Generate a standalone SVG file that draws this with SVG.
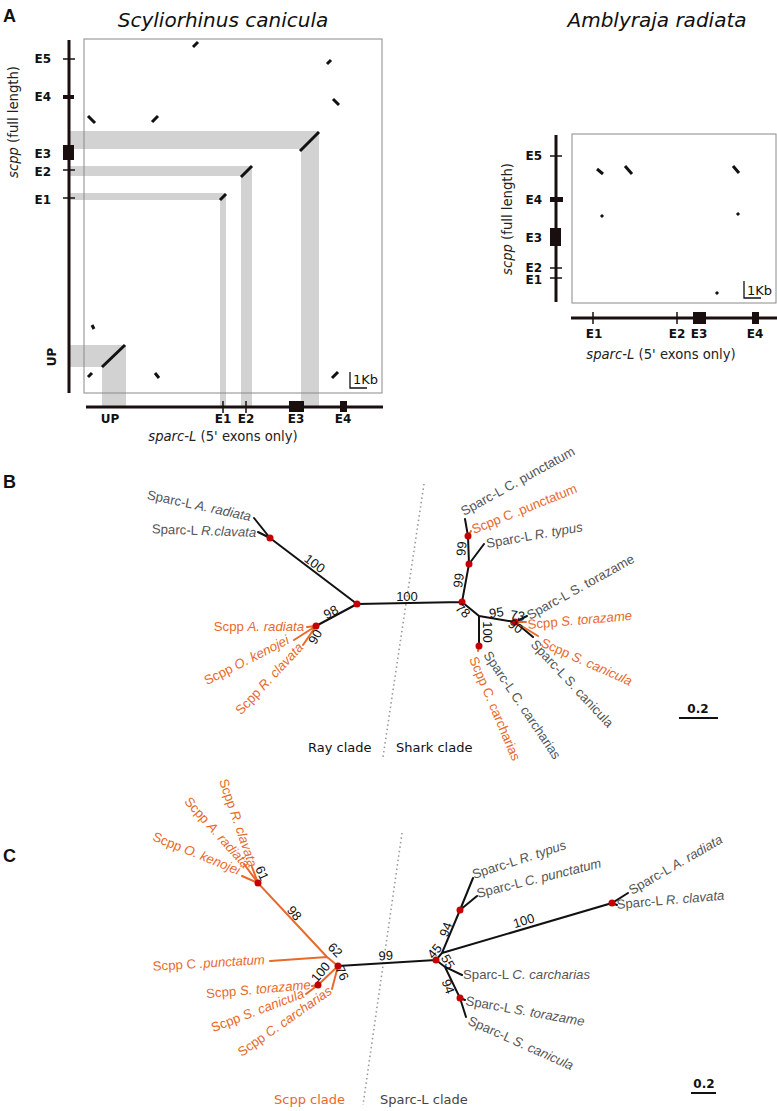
<svg xmlns="http://www.w3.org/2000/svg" width="777" height="1111" viewBox="0 0 777 1111">
<style>
.ax{stroke:#1a0f0f;stroke-width:3;fill:none}
.tk{stroke:#1a0f0f;stroke-width:1.5}
.blk{fill:#1a0f0f}
.band{fill:#d2d2d2}
.box{fill:none;stroke:#8a8a8a;stroke-width:1}
.dt{stroke:#111;stroke-width:3;fill:none}
.ex{font-family:'DejaVu Sans',sans-serif;font-weight:bold;font-size:12px;fill:#111}
.ttl{font-family:'DejaVu Sans',sans-serif;font-style:italic;font-size:20px;fill:#111}
.axl{font-family:'DejaVu Sans',sans-serif;font-size:13.2px;fill:#222}
.pl{font-family:'Liberation Sans',sans-serif;font-weight:bold;font-size:18px;fill:#111}
.br{stroke:#111;stroke-width:2;fill:none;stroke-linecap:round}
.bo{stroke:#e8692a;stroke-width:2;fill:none;stroke-linecap:round}
.nd{fill:#c40000}
.lg{font-family:'Liberation Sans',sans-serif;font-size:13.2px;fill:#555}
.lo{font-family:'Liberation Sans',sans-serif;font-size:13.2px;fill:#e8692a}
.bs{font-family:'Liberation Sans',sans-serif;font-size:13px;fill:#111}
.it{font-style:italic}
.dot{stroke:#9a9a9a;stroke-width:1.6;stroke-dasharray:1.5 3;fill:none}
.cl{font-family:'DejaVu Sans',sans-serif;font-size:13px}
.sc{font-family:'DejaVu Sans',sans-serif;font-weight:bold;font-size:12px;fill:#111}
.kb{font-family:'DejaVu Sans',sans-serif;font-size:13px;fill:#111}
</style>

<!-- Panel A -->
<g id="panelA">
<text class="pl" x="3" y="22">A</text>
<g id="plot-scyliorhinus">
<text class="ttl" x="223" y="27" text-anchor="middle">Scyliorhinus canicula</text>
<rect class="band" x="69" y="131" width="250" height="18"/>
<rect class="band" x="301" y="131" width="18" height="275"/>
<rect class="band" x="69" y="166" width="183" height="10"/>
<rect class="band" x="241" y="166" width="11" height="240"/>
<rect class="band" x="69" y="193" width="157" height="7"/>
<rect class="band" x="220" y="193" width="6" height="213"/>
<rect class="band" x="69" y="345" width="57" height="22"/>
<rect class="band" x="102" y="345" width="24" height="61"/>
<rect class="box" x="84" y="39" width="298" height="354"/>
<line class="ax" x1="69" y1="40" x2="69" y2="393"/>
<line class="tk" x1="63" y1="59" x2="75" y2="59"/>
<rect class="blk" x="63" y="95" width="11" height="4"/>
<rect class="blk" x="63" y="145" width="11" height="15"/>
<line class="tk" x1="63" y1="170" x2="75" y2="170"/>
<line class="tk" x1="63" y1="198" x2="75" y2="198"/>
<text class="ex" x="51" y="63" text-anchor="end">E5</text>
<text class="ex" x="51" y="101" text-anchor="end">E4</text>
<text class="ex" x="51" y="158" text-anchor="end">E3</text>
<text class="ex" x="51" y="176" text-anchor="end">E2</text>
<text class="ex" x="51" y="204" text-anchor="end">E1</text>
<text class="ex" transform="translate(56,357) rotate(-90)" text-anchor="middle">UP</text>
<text class="axl" transform="translate(18,122) rotate(-90)" text-anchor="middle"><tspan class="it">scpp</tspan> (full length)</text>
<path class="dt" d="M193 47L198 42M327 64L331 60M333 99L339 105M88 116L95 123M152 122L158 116M300 151L319 132M241 177L252 166M220 200L226 194M92 325L94 329M102 367L125 345M88 377L92 373M155 373L159 378M332 378L338 372"/>
<path d="M350 372V388H367" fill="none" stroke="#111" stroke-width="1.3"/>
<text class="kb" x="353" y="384">1Kb</text>
<line class="ax" x1="86" y1="407" x2="383" y2="407"/>
<line class="tk" x1="223" y1="401" x2="223" y2="413"/>
<line class="tk" x1="246" y1="401" x2="246" y2="413"/>
<rect class="blk" x="289" y="401" width="15" height="11"/>
<rect class="blk" x="340" y="401" width="7" height="11"/>
<text class="ex" x="110" y="423" text-anchor="middle">UP</text>
<text class="ex" x="223" y="423" text-anchor="middle">E1</text>
<text class="ex" x="246" y="423" text-anchor="middle">E2</text>
<text class="ex" x="296" y="423" text-anchor="middle">E3</text>
<text class="ex" x="343" y="423" text-anchor="middle">E4</text>
<text class="axl" x="223" y="441" text-anchor="middle"><tspan class="it">sparc-L</tspan> (5' exons only)</text>
</g>
<g id="plot-amblyraja">
<text class="ttl" x="657" y="27" text-anchor="middle">Amblyraja radiata</text>
<rect class="box" x="572" y="134" width="204" height="169"/>
<line class="ax" x1="556" y1="135" x2="556" y2="302"/>
<line class="tk" x1="550" y1="156" x2="562" y2="156"/>
<rect class="blk" x="550" y="197" width="13" height="5"/>
<rect class="blk" x="550" y="228" width="11" height="18"/>
<line class="tk" x1="550" y1="268" x2="562" y2="268"/>
<line class="tk" x1="550" y1="278" x2="562" y2="278"/>
<text class="ex" x="542" y="160" text-anchor="end">E5</text>
<text class="ex" x="542" y="204" text-anchor="end">E4</text>
<text class="ex" x="542" y="242" text-anchor="end">E3</text>
<text class="ex" x="542" y="272" text-anchor="end">E2</text>
<text class="ex" x="542" y="284" text-anchor="end">E1</text>
<text class="axl" transform="translate(512,219) rotate(-90)" text-anchor="middle"><tspan class="it">scpp</tspan> (full length)</text>
<path class="dt" d="M597 169L603 174M625 166L632 174M733 166L739 173"/>
<path class="dt" stroke-width="2.5" d="M601 215L603 217M737 213L739 215M716 292L718 294"/>
<path d="M744 281V298H761" fill="none" stroke="#111" stroke-width="1.3"/>
<text class="kb" x="747" y="295">1Kb</text>
<line class="ax" x1="571" y1="318" x2="777" y2="318"/>
<line class="tk" x1="593" y1="312" x2="593" y2="324"/>
<line class="tk" x1="677" y1="312" x2="677" y2="324"/>
<rect class="blk" x="693" y="312" width="13" height="12"/>
<rect class="blk" x="752" y="312" width="7" height="12"/>
<text class="ex" x="594" y="338" text-anchor="middle">E1</text>
<text class="ex" x="677" y="338" text-anchor="middle">E2</text>
<text class="ex" x="699" y="338" text-anchor="middle">E3</text>
<text class="ex" x="755" y="338" text-anchor="middle">E4</text>
<text class="axl" x="661" y="359" text-anchor="middle"><tspan class="it">sparc-L</tspan> (5' exons only)</text>
</g>
</g>

<!-- Panel B -->
<g id="panelB">
<text class="pl" x="3" y="488">B</text>
<path class="dot" d="M424 484L383 757"/>
<text class="cl" x="308" y="752" fill="#111">Ray clade</text>
<text class="cl" x="396" y="752" fill="#111">Shark clade</text>
<g id="connectorsB">
<path class="br" d="M357 604L462 602M357 604L270 538M270 538L254 518M270 538L258 532M357 604L316 626M462 602L469 564L468 536L465 519M469 564L484 544M462 602L479 616L479 646M479 616L515 622L527 616M515 622L533 637"/>
<path class="bo" d="M316 626L307 627M316 626L294 640M316 626L303 645M468 536L471 531M515 622L526 622M515 622L538 636M479 646L478 651"/>
</g>
<g id="nodesB">
<circle class="nd" cx="270" cy="538" r="3.5"/>
<circle class="nd" cx="357" cy="604" r="3.5"/>
<circle class="nd" cx="316" cy="626" r="3.5"/>
<circle class="nd" cx="462" cy="602" r="3.5"/>
<circle class="nd" cx="469" cy="564" r="3.5"/>
<circle class="nd" cx="468" cy="536" r="3.5"/>
<circle class="nd" cx="515" cy="622" r="3.5"/>
<circle class="nd" cx="479" cy="646" r="3.5"/>
</g>
<g id="supportB">
<text class="bs" transform="translate(312,567) rotate(37)" text-anchor="middle">100</text>
<text class="bs" x="407" y="601" text-anchor="middle">100</text>
<text class="bs" transform="translate(333,616) rotate(-28)" text-anchor="middle">98</text>
<text class="bs" transform="translate(319,639) rotate(-60)" text-anchor="middle">90</text>
<text class="bs" transform="translate(463,581) rotate(-82)" text-anchor="middle">99</text>
<text class="bs" transform="translate(466,549) rotate(-85)" text-anchor="middle">99</text>
<text class="bs" transform="translate(460,614) rotate(42)" text-anchor="middle">78</text>
<text class="bs" transform="translate(497,617) rotate(-8)" text-anchor="middle">95</text>
<text class="bs" transform="translate(483,632) rotate(90)" text-anchor="middle">100</text>
<text class="bs" transform="translate(517,620) rotate(8)" text-anchor="middle">73</text>
<text class="bs" transform="translate(513,630) rotate(35)" text-anchor="middle">90</text>
</g>
<g id="leavesB">
<text class="lg" transform="translate(250,521) rotate(12)" text-anchor="end">Sparc-L <tspan class="it">A. radiata</tspan></text>
<text class="lg" transform="translate(256,537) rotate(2)" text-anchor="end">Sparc-L <tspan class="it">R.clavata</tspan></text>
<text class="lo" transform="translate(304,631)" text-anchor="end">Scpp <tspan class="it">A. radiata</tspan></text>
<text class="lo" transform="translate(290,643) rotate(-27)" text-anchor="end">Scpp <tspan class="it">O. kenojei</tspan></text>
<text class="lo" transform="translate(304,648) rotate(-47)" text-anchor="end">Scpp <tspan class="it">R. clavata</tspan></text>
<text class="lg" transform="translate(464,516) rotate(-29)">Sparc-L C. punctatum</text>
<text class="lo" transform="translate(474,534) rotate(-22)">Scpp C .punctatum</text>
<text class="lg" transform="translate(487,548) rotate(-10)">Sparc-L <tspan class="it">R. typus</tspan></text>
<text class="lg" transform="translate(530,620) rotate(-29)">Sparc-L S. torazame</text>
<text class="lo" transform="translate(528,629) rotate(-5)">Scpp <tspan class="it">S. torazame</tspan></text>
<text class="lo" transform="translate(540,646) rotate(24)">Scpp <tspan class="it">S. canicula</tspan></text>
<text class="lg" transform="translate(530,645) rotate(47)">Sparc-L S. canicula</text>
<text class="lo" transform="translate(469,659) rotate(67)">Scpp C. carcharias</text>
<text class="lg" transform="translate(483,655) rotate(56)">Sparc-L C. carcharias</text>
</g>
<line x1="679" y1="718" x2="718" y2="718" stroke="#111" stroke-width="2"/>
<text class="sc" x="698" y="713" text-anchor="middle">0.2</text>
</g>

<!-- Panel C -->
<g id="panelC">
<text class="pl" x="3" y="862">C</text>
<path class="dot" d="M402 833L363 1105"/>
<text class="cl" x="274" y="1104" fill="#e8692a">Scpp clade</text>
<text class="cl" x="380" y="1104" fill="#444">Sparc-L clade</text>
<g id="connectorsC">
<path class="br" d="M338 966L436 960M436 960L442 953L460 910L473 878M460 910L477 896M442 953L612 903L628 893M612 903L617 905M436 960L445 967L462 975M445 967L460 998L466 1017M460 998L465 1000"/>
<path class="bo" d="M338 966L327 957L270 961M327 957L258 883L242 876M258 883L244 864M258 883L252 867M338 966L318 985L312 986M318 985L306 994M338 966L332 989"/>
</g>
<g id="nodesC">
<circle class="nd" cx="338" cy="966" r="3.5"/>
<circle class="nd" cx="436" cy="960" r="3.5"/>
<circle class="nd" cx="460" cy="910" r="3.5"/>
<circle class="nd" cx="612" cy="903" r="3.5"/>
<circle class="nd" cx="258" cy="883" r="3.5"/>
<circle class="nd" cx="318" cy="985" r="3.5"/>
<circle class="nd" cx="460" cy="998" r="3.5"/>
</g>
<g id="supportC">
<text class="bs" transform="translate(258,875) rotate(65)" text-anchor="middle">61</text>
<text class="bs" transform="translate(291,916) rotate(50)" text-anchor="middle">98</text>
<text class="bs" transform="translate(332,953) rotate(45)" text-anchor="middle">62</text>
<text class="bs" transform="translate(324,975) rotate(-50)" text-anchor="middle">100</text>
<text class="bs" transform="translate(338,975) rotate(65)" text-anchor="middle">76</text>
<text class="bs" transform="translate(386,960) rotate(-3)" text-anchor="middle">99</text>
<text class="bs" transform="translate(438,954) rotate(-50)" text-anchor="middle">45</text>
<text class="bs" transform="translate(450,931) rotate(-70)" text-anchor="middle">94</text>
<text class="bs" transform="translate(525,925) rotate(-17)" text-anchor="middle">100</text>
<text class="bs" transform="translate(444,964) rotate(60)" text-anchor="middle">55</text>
<text class="bs" transform="translate(444,988) rotate(70)" text-anchor="middle">94</text>
</g>
<g id="leavesC">
<text class="lo" transform="translate(249,868) rotate(71)" text-anchor="end">Scpp <tspan class="it">R. clavata</tspan></text>
<text class="lo" transform="translate(244,869) rotate(48)" text-anchor="end">Scpp <tspan class="it">A. radiata</tspan></text>
<text class="lo" transform="translate(238,875) rotate(22)" text-anchor="end">Scpp <tspan class="it">O. kenojei</tspan></text>
<text class="lo" transform="translate(265,964) rotate(-3.5)" text-anchor="end">Scpp C <tspan class="it">.punctatum</tspan></text>
<text class="lo" transform="translate(311,989) rotate(-5)" text-anchor="end">Scpp <tspan class="it">S. torazame</tspan></text>
<text class="lo" transform="translate(305,997) rotate(-21)" text-anchor="end">Scpp <tspan class="it">S. canicula</tspan></text>
<text class="lo" transform="translate(333,993) rotate(-35)" text-anchor="end">Scpp <tspan class="it">C. carcharias</tspan></text>
<text class="lg" transform="translate(474,879) rotate(-18)">Sparc-L <tspan class="it">R. typus</tspan></text>
<text class="lg" transform="translate(478,898) rotate(-14)">Sparc-L <tspan class="it">C. punctatum</tspan></text>
<text class="lg" transform="translate(632,895) rotate(-30)">Sparc-L <tspan class="it">A. radiata</tspan></text>
<text class="lg" transform="translate(617,909) rotate(-5)">Sparc-L <tspan class="it">R. clavata</tspan></text>
<text class="lg" transform="translate(463,979)">Sparc-L <tspan class="it">C. carcharias</tspan></text>
<text class="lg" transform="translate(465,1005) rotate(10)">Sparc-L <tspan class="it">S. torazame</tspan></text>
<text class="lg" transform="translate(467,1024) rotate(24)">Sparc-L <tspan class="it">S. canicula</tspan></text>
</g>
<line x1="691" y1="1093" x2="716" y2="1093" stroke="#111" stroke-width="2"/>
<text class="sc" x="704" y="1088" text-anchor="middle">0.2</text>
</g>
</svg>
